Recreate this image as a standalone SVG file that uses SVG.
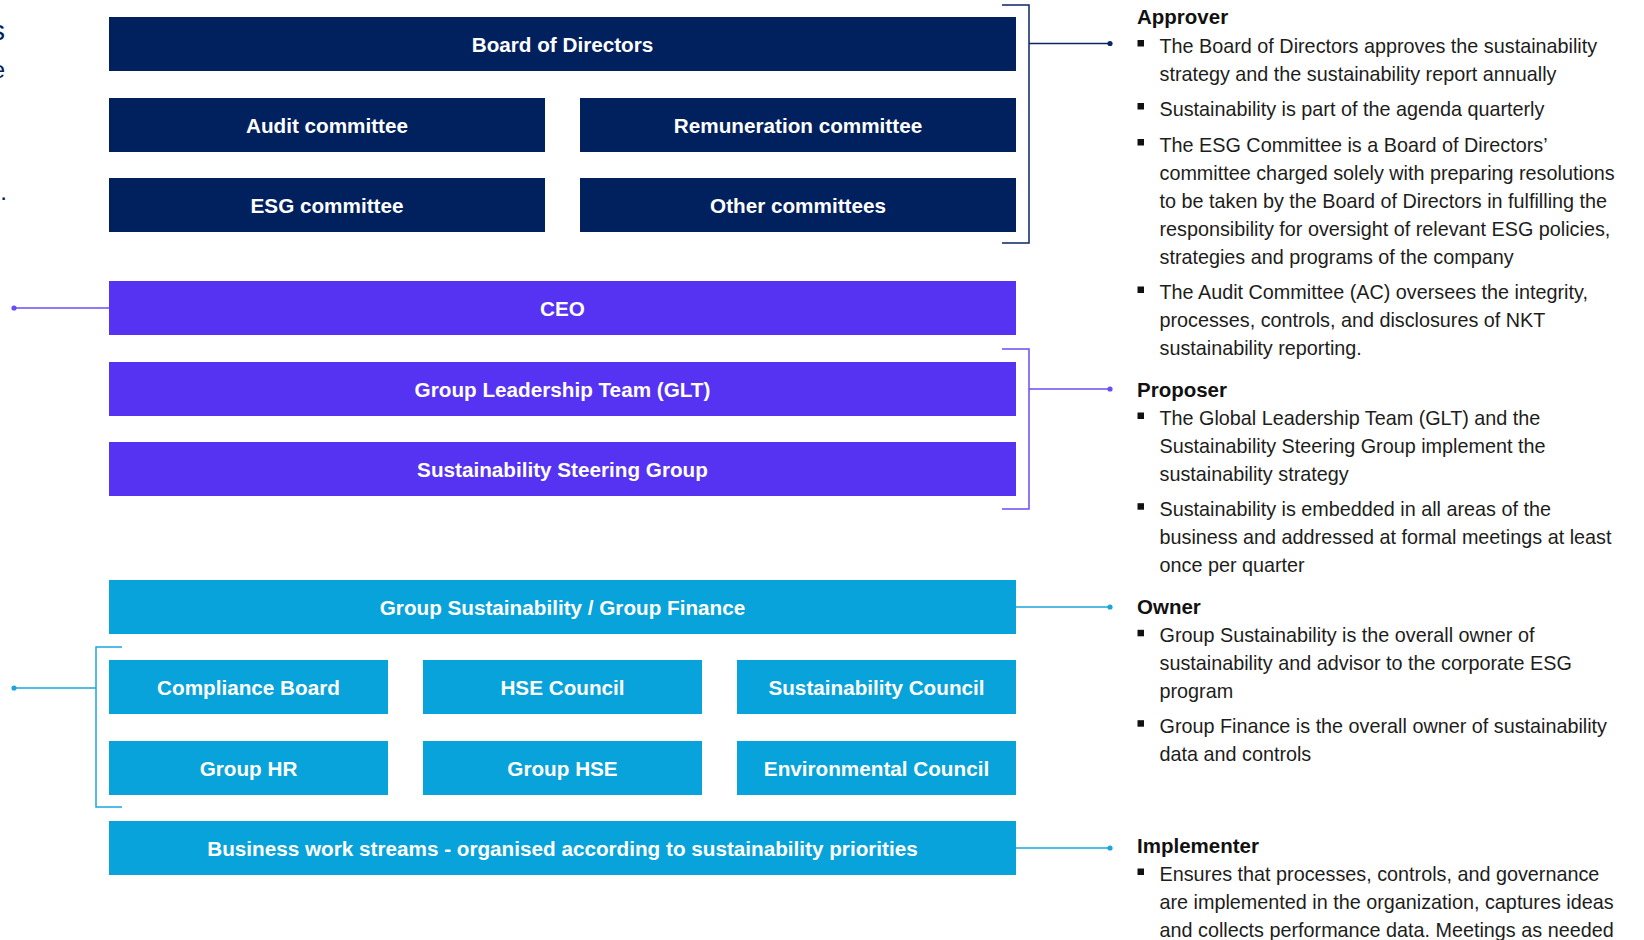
<svg xmlns="http://www.w3.org/2000/svg" width="1644" height="940" viewBox="0 0 1644 940">
<style>
.box-n{fill:#01215E}
.box-p{fill:#5632F3}
.box-c{fill:#07A3DA}
.lbl{font-family:"Liberation Sans",Arial,sans-serif;font-weight:bold;font-size:20.7px;fill:#ffffff;text-anchor:middle}
.hd{font-family:"Liberation Sans",Arial,sans-serif;font-weight:bold;font-size:20.5px;fill:#111111}
.bd{font-family:"Liberation Sans",Arial,sans-serif;font-size:19.8px;fill:#1d1d1b}
.frag{font-family:"Liberation Sans",Arial,sans-serif;fill:#01215E;text-anchor:end}
.bul{fill:#111111}
.ln{fill:none;stroke-width:1.5}
.ln-n{stroke:#0B2566}
.ln-p{stroke:#6A4CF5}
.ln-c{stroke:#1AA6DC}
</style>
<rect width="1644" height="940" fill="#ffffff"/>

<g id="left-fragments">
<text class="frag" x="5" y="40" font-size="28">s</text>
<text class="frag" x="5" y="78" font-size="24">e</text>
<text class="frag" x="7" y="200" font-size="24">.</text>
</g>

<g id="connectors">
<path class="ln ln-n" d="M1002,5 H1029 V243 H1002"/>
<path class="ln ln-n" d="M1029,43.5 H1110"/>
<circle cx="1110" cy="43.5" r="2.6" fill="#0B2566"/>
<path class="ln ln-p" d="M14,308 H109"/>
<circle cx="14" cy="308" r="2.6" fill="#6A4CF5"/>
<path class="ln ln-p" d="M1002,349 H1029 V509 H1002"/>
<path class="ln ln-p" d="M1029,389 H1110"/>
<circle cx="1110" cy="389" r="2.6" fill="#6A4CF5"/>
<path class="ln ln-c" d="M1016,607 H1110"/>
<circle cx="1110" cy="607" r="2.6" fill="#1AA6DC"/>
<path class="ln ln-c" d="M122,647 H96 V807 H122"/>
<path class="ln ln-c" d="M14,688 H96"/>
<circle cx="14" cy="688" r="2.6" fill="#1AA6DC"/>
<path class="ln ln-c" d="M1016,848 H1110"/>
<circle cx="1110" cy="848" r="2.6" fill="#1AA6DC"/>
</g>

<g id="board"><rect class="box-n" x="109" y="17" width="907" height="54"/><text class="lbl" x="562.5" y="51.5">Board of Directors</text></g>
<g id="audit"><rect class="box-n" x="109" y="98" width="436" height="54"/><text class="lbl" x="327" y="132.5">Audit committee</text></g>
<g id="remuneration"><rect class="box-n" x="580" y="98" width="436" height="54"/><text class="lbl" x="798" y="132.5">Remuneration committee</text></g>
<g id="esg"><rect class="box-n" x="109" y="178" width="436" height="54"/><text class="lbl" x="327" y="212.5">ESG committee</text></g>
<g id="other"><rect class="box-n" x="580" y="178" width="436" height="54"/><text class="lbl" x="798" y="212.5">Other committees</text></g>
<g id="ceo"><rect class="box-p" x="109" y="281" width="907" height="54"/><text class="lbl" x="562.5" y="315.5">CEO</text></g>
<g id="glt"><rect class="box-p" x="109" y="362" width="907" height="54"/><text class="lbl" x="562.5" y="396.5">Group Leadership Team (GLT)</text></g>
<g id="ssg"><rect class="box-p" x="109" y="442" width="907" height="54"/><text class="lbl" x="562.5" y="476.5">Sustainability Steering Group</text></g>
<g id="gsgf"><rect class="box-c" x="109" y="580" width="907" height="54"/><text class="lbl" x="562.5" y="614.5">Group Sustainability / Group Finance</text></g>
<g id="compliance"><rect class="box-c" x="109" y="660" width="279" height="54"/><text class="lbl" x="248.5" y="694.5">Compliance Board</text></g>
<g id="hse-council"><rect class="box-c" x="423" y="660" width="279" height="54"/><text class="lbl" x="562.5" y="694.5">HSE Council</text></g>
<g id="sust-council"><rect class="box-c" x="737" y="660" width="279" height="54"/><text class="lbl" x="876.5" y="694.5">Sustainability Council</text></g>
<g id="group-hr"><rect class="box-c" x="109" y="741" width="279" height="54"/><text class="lbl" x="248.5" y="775.5">Group HR</text></g>
<g id="group-hse"><rect class="box-c" x="423" y="741" width="279" height="54"/><text class="lbl" x="562.5" y="775.5">Group HSE</text></g>
<g id="env-council"><rect class="box-c" x="737" y="741" width="279" height="54"/><text class="lbl" x="876.5" y="775.5">Environmental Council</text></g>
<g id="business"><rect class="box-c" x="109" y="821" width="907" height="54"/><text class="lbl" x="562.5" y="855.5">Business work streams - organised according to sustainability priorities</text></g>

<g id="approver">
<text class="hd" x="1137" y="23.5">Approver</text>
<rect class="bul" x="1137.5" y="40" width="6.5" height="6.5"/>
<text class="bd" x="1159.5" y="52.7">The Board of Directors approves the sustainability</text>
<text class="bd" x="1159.5" y="80.7">strategy and the sustainability report annually</text>
<rect class="bul" x="1137.5" y="103" width="6.5" height="6.5"/>
<text class="bd" x="1159.5" y="115.7">Sustainability is part of the agenda quarterly</text>
<rect class="bul" x="1137.5" y="139" width="6.5" height="6.5"/>
<text class="bd" x="1159.5" y="151.7">The ESG Committee is a Board of Directors’</text>
<text class="bd" x="1159.5" y="179.7">committee charged solely with preparing resolutions</text>
<text class="bd" x="1159.5" y="207.7">to be taken by the Board of Directors in fulfilling the</text>
<text class="bd" x="1159.5" y="235.7">responsibility for oversight of relevant ESG policies,</text>
<text class="bd" x="1159.5" y="263.7">strategies and programs of the company</text>
<rect class="bul" x="1137.5" y="286.5" width="6.5" height="6.5"/>
<text class="bd" x="1159.5" y="299">The Audit Committee (AC) oversees the integrity,</text>
<text class="bd" x="1159.5" y="327">processes, controls, and disclosures of NKT</text>
<text class="bd" x="1159.5" y="355">sustainability reporting.</text>
</g>

<g id="proposer">
<text class="hd" x="1137" y="396.7">Proposer</text>
<rect class="bul" x="1137.5" y="412.5" width="6.5" height="6.5"/>
<text class="bd" x="1159.5" y="425">The Global Leadership Team (GLT) and the</text>
<text class="bd" x="1159.5" y="453">Sustainability Steering Group implement the</text>
<text class="bd" x="1159.5" y="481">sustainability strategy</text>
<rect class="bul" x="1137.5" y="503.2" width="6.5" height="6.5"/>
<text class="bd" x="1159.5" y="515.7">Sustainability is embedded in all areas of the</text>
<text class="bd" x="1159.5" y="543.7">business and addressed at formal meetings at least</text>
<text class="bd" x="1159.5" y="571.7">once per quarter</text>
</g>

<g id="owner">
<text class="hd" x="1137" y="614">Owner</text>
<rect class="bul" x="1137.5" y="629.8" width="6.5" height="6.5"/>
<text class="bd" x="1159.5" y="642.3">Group Sustainability is the overall owner of</text>
<text class="bd" x="1159.5" y="670.3">sustainability and advisor to the corporate ESG</text>
<text class="bd" x="1159.5" y="698.3">program</text>
<rect class="bul" x="1137.5" y="720.2" width="6.5" height="6.5"/>
<text class="bd" x="1159.5" y="732.7">Group Finance is the overall owner of sustainability</text>
<text class="bd" x="1159.5" y="760.7">data and controls</text>
</g>

<g id="implementer">
<text class="hd" x="1137" y="853">Implementer</text>
<rect class="bul" x="1137.5" y="868.5" width="6.5" height="6.5"/>
<text class="bd" x="1159.5" y="881">Ensures that processes, controls, and governance</text>
<text class="bd" x="1159.5" y="909">are implemented in the organization, captures ideas</text>
<text class="bd" x="1159.5" y="937">and collects performance data. Meetings as needed</text>
</g>
</svg>
